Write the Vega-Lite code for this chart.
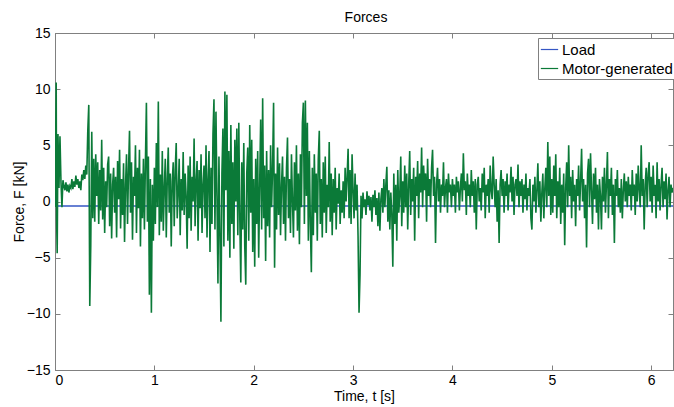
{
  "$schema": "https://vega.github.io/schema/vega-lite/v6.json",
  "autosize": "none",
  "width": 618,
  "height": 337,
  "padding": {"left": 55, "top": 33, "right": 1, "bottom": 37},
  "background": "white",
  "config": {
    "font": "Liberation Sans",
    "view": {"stroke": "#808080", "strokeWidth": 1},
    "axis": {
      "grid": false,
      "domainColor": "#808080",
      "tickColor": "#808080",
      "labelColor": "#000000",
      "titleColor": "#000000",
      "labelFont": "Liberation Sans",
      "titleFont": "Liberation Sans",
      "labelFontSize": 14,
      "titleFontSize": 14,
      "titleFontWeight": "normal",
      "tickSize": -5,
      "labelPadding": 8
    }
  },
  "title": {"text": "Forces", "fontSize": 14, "fontWeight": "normal", "font": "Liberation Sans", "color": "#000000", "offset": 1, "anchor": "middle", "dx": 2},
  "datasets": {
    "load": [{"t": 0, "f": -0.4}, {"t": 6.22, "f": -0.4}],
    "motor": [
{"t":0.00,"f":-0.5},{"t":0.012,"f":10.6},{"t":0.016,"f":-1.5},{"t":0.022,"f":-4.6},{"t":0.03,"f":6.0},{"t":0.04,"f":1.2},{"t":0.05,"f":5.8},{"t":0.06,"f":1.8},{"t":0.07,"f":-0.5},{"t":0.08,"f":1.9},{"t":0.09,"f":1.4},
{"t":0.10,"f":1.0},{"t":0.11,"f":1.7},{"t":0.12,"f":0.9},{"t":0.13,"f":1.5},{"t":0.14,"f":0.8},{"t":0.15,"f":1.4},{"t":0.16,"f":1.2},{"t":0.17,"f":2.0},{"t":0.18,"f":1.1},{"t":0.19,"f":1.8},
{"t":0.20,"f":1.3},{"t":0.21,"f":2.3},{"t":0.22,"f":1.5},{"t":0.23,"f":2.0},{"t":0.24,"f":1.2},{"t":0.25,"f":1.8},{"t":0.26,"f":1.0},{"t":0.27,"f":2.4},{"t":0.28,"f":1.9},{"t":0.29,"f":2.8},
{"t":0.30,"f":2.0},{"t":0.31,"f":3.2},{"t":0.32,"f":2.4},{"t":0.33,"f":6.3},{"t":0.34,"f":8.6},{"t":0.35,"f":-9.3},{"t":0.36,"f":-3.9},{"t":0.37,"f":6.2},{"t":0.38,"f":-1.5},{"t":0.39,"f":3.8},
{"t":0.40,"f":-1.8},{"t":0.41,"f":4.2},{"t":0.42,"f":0.5},{"t":0.43,"f":3.5},{"t":0.44,"f":-2.0},{"t":0.45,"f":2.8},{"t":0.46,"f":-0.8},{"t":0.47,"f":5.5},{"t":0.48,"f":-1.6},{"t":0.49,"f":3.0},
{"t":0.50,"f":-2.8},{"t":0.51,"f":1.8},{"t":0.52,"f":-0.5},{"t":0.53,"f":3.3},{"t":0.54,"f":4.0},{"t":0.55,"f":-2.2},{"t":0.56,"f":2.5},{"t":0.57,"f":-3.3},{"t":0.58,"f":1.5},{"t":0.59,"f":3.0},
{"t":0.60,"f":-1.0},{"t":0.61,"f":2.2},{"t":0.62,"f":-3.2},{"t":0.63,"f":3.6},{"t":0.64,"f":0.2},{"t":0.65,"f":4.6},{"t":0.66,"f":-2.4},{"t":0.67,"f":2.0},{"t":0.68,"f":-1.2},{"t":0.69,"f":3.4},
{"t":0.70,"f":-3.6},{"t":0.71,"f":1.5},{"t":0.72,"f":4.2},{"t":0.73,"f":-2.0},{"t":0.74,"f":2.8},{"t":0.75,"f":6.3},{"t":0.76,"f":-1.0},{"t":0.77,"f":3.5},{"t":0.78,"f":-3.4},{"t":0.79,"f":2.2},
{"t":0.80,"f":0.5},{"t":0.81,"f":5.0},{"t":0.82,"f":-2.8},{"t":0.83,"f":3.0},{"t":0.84,"f":-0.6},{"t":0.85,"f":4.6},{"t":0.86,"f":-4.0},{"t":0.87,"f":2.5},{"t":0.88,"f":-1.5},{"t":0.89,"f":3.8},
{"t":0.90,"f":-2.5},{"t":0.91,"f":3.5},{"t":0.92,"f":8.8},{"t":0.93,"f":-1.8},{"t":0.94,"f":4.0},{"t":0.95,"f":-8.3},{"t":0.96,"f":2.0},{"t":0.97,"f":-9.9},{"t":0.98,"f":1.5},{"t":0.99,"f":-3.5},
{"t":1.00,"f":3.0},{"t":1.01,"f":-2.0},{"t":1.02,"f":5.2},{"t":1.03,"f":-0.5},{"t":1.04,"f":8.9},{"t":1.05,"f":-3.0},{"t":1.06,"f":2.4},{"t":1.07,"f":-1.8},{"t":1.08,"f":4.5},{"t":1.09,"f":-2.6},
{"t":1.10,"f":1.2},{"t":1.11,"f":3.8},{"t":1.12,"f":-3.2},{"t":1.13,"f":2.0},{"t":1.14,"f":4.8},{"t":1.15,"f":-1.0},{"t":1.16,"f":2.5},{"t":1.17,"f":-4.0},{"t":1.18,"f":1.8},{"t":1.19,"f":3.5},
{"t":1.20,"f":-2.2},{"t":1.21,"f":2.8},{"t":1.22,"f":5.2},{"t":1.23,"f":-1.5},{"t":1.24,"f":0.8},{"t":1.25,"f":3.8},{"t":1.26,"f":-3.0},{"t":1.27,"f":2.0},{"t":1.28,"f":-0.8},{"t":1.29,"f":4.4},
{"t":1.30,"f":-1.2},{"t":1.31,"f":2.5},{"t":1.32,"f":0.5},{"t":1.33,"f":-4.2},{"t":1.34,"f":3.2},{"t":1.35,"f":-1.5},{"t":1.36,"f":4.0},{"t":1.37,"f":-2.6},{"t":1.38,"f":2.2},{"t":1.39,"f":0.0},
{"t":1.40,"f":5.6},{"t":1.41,"f":-2.2},{"t":1.42,"f":1.8},{"t":1.43,"f":3.6},{"t":1.44,"f":-3.5},{"t":1.45,"f":2.8},{"t":1.46,"f":-0.6},{"t":1.47,"f":4.2},{"t":1.48,"f":-2.8},{"t":1.49,"f":1.5},
{"t":1.50,"f":3.2},{"t":1.51,"f":-1.5},{"t":1.52,"f":5.0},{"t":1.53,"f":-3.2},{"t":1.54,"f":2.0},{"t":1.55,"f":4.5},{"t":1.56,"f":-4.5},{"t":1.57,"f":3.0},{"t":1.58,"f":-2.0},{"t":1.59,"f":6.0},
{"t":1.60,"f":9.1},{"t":1.61,"f":-2.5},{"t":1.62,"f":8.0},{"t":1.63,"f":0.5},{"t":1.64,"f":-7.3},{"t":1.65,"f":4.0},{"t":1.66,"f":-3.0},{"t":1.67,"f":-10.7},{"t":1.68,"f":2.5},{"t":1.69,"f":6.5},
{"t":1.70,"f":-4.0},{"t":1.71,"f":9.8},{"t":1.72,"f":1.0},{"t":1.73,"f":9.5},{"t":1.74,"f":-3.5},{"t":1.75,"f":4.5},{"t":1.76,"f":-5.0},{"t":1.77,"f":6.8},{"t":1.78,"f":-2.0},{"t":1.79,"f":3.5},
{"t":1.80,"f":-4.2},{"t":1.81,"f":5.5},{"t":1.82,"f":0.0},{"t":1.83,"f":6.5},{"t":1.84,"f":-3.0},{"t":1.85,"f":7.0},{"t":1.86,"f":-1.5},{"t":1.87,"f":-7.2},{"t":1.88,"f":3.5},{"t":1.89,"f":-2.5},
{"t":1.90,"f":5.2},{"t":1.91,"f":-4.0},{"t":1.92,"f":-7.4},{"t":1.93,"f":2.5},{"t":1.94,"f":4.8},{"t":1.95,"f":-3.5},{"t":1.96,"f":6.8},{"t":1.97,"f":-1.0},{"t":1.98,"f":5.5},{"t":1.99,"f":-4.5},
{"t":2.00,"f":2.0},{"t":2.01,"f":-5.8},{"t":2.02,"f":3.8},{"t":2.03,"f":-2.0},{"t":2.04,"f":4.5},{"t":2.05,"f":-5.0},{"t":2.06,"f":1.5},{"t":2.07,"f":7.3},{"t":2.08,"f":-2.5},{"t":2.09,"f":9.2},
{"t":2.10,"f":-1.5},{"t":2.11,"f":3.2},{"t":2.12,"f":-5.3},{"t":2.13,"f":4.5},{"t":2.14,"f":-2.2},{"t":2.15,"f":2.8},{"t":2.16,"f":-3.2},{"t":2.17,"f":5.0},{"t":2.18,"f":-0.5},{"t":2.19,"f":3.0},
{"t":2.20,"f":8.8},{"t":2.21,"f":-5.9},{"t":2.22,"f":2.5},{"t":2.23,"f":-2.5},{"t":2.24,"f":4.8},{"t":2.25,"f":-1.2},{"t":2.26,"f":3.4},{"t":2.27,"f":-3.0},{"t":2.28,"f":1.5},{"t":2.29,"f":4.0},
{"t":2.30,"f":-2.0},{"t":2.31,"f":2.2},{"t":2.32,"f":-3.5},{"t":2.33,"f":3.0},{"t":2.34,"f":5.7},{"t":2.35,"f":-1.5},{"t":2.36,"f":2.0},{"t":2.37,"f":-2.8},{"t":2.38,"f":4.2},{"t":2.39,"f":0.0},
{"t":2.40,"f":-3.2},{"t":2.41,"f":3.5},{"t":2.42,"f":-0.8},{"t":2.43,"f":5.0},{"t":2.44,"f":-2.6},{"t":2.45,"f":2.5},{"t":2.46,"f":-3.8},{"t":2.47,"f":4.2},{"t":2.48,"f":-0.5},{"t":2.49,"f":7.0},
{"t":2.50,"f":8.8},{"t":2.51,"f":-2.0},{"t":2.52,"f":9.0},{"t":2.53,"f":0.5},{"t":2.54,"f":7.0},{"t":2.55,"f":-3.5},{"t":2.56,"f":4.5},{"t":2.57,"f":-2.0},{"t":2.58,"f":-6.3},{"t":2.59,"f":3.0},
{"t":2.60,"f":-3.0},{"t":2.61,"f":4.2},{"t":2.62,"f":-1.0},{"t":2.63,"f":2.5},{"t":2.64,"f":-3.5},{"t":2.65,"f":3.8},{"t":2.66,"f":6.3},{"t":2.67,"f":-2.0},{"t":2.68,"f":2.0},{"t":2.69,"f":-3.2},
{"t":2.70,"f":3.5},{"t":2.71,"f":-1.0},{"t":2.72,"f":4.0},{"t":2.73,"f":-2.8},{"t":2.74,"f":1.5},{"t":2.75,"f":-0.5},{"t":2.76,"f":5.3},{"t":2.77,"f":-1.8},{"t":2.78,"f":2.5},{"t":2.79,"f":-3.0},
{"t":2.80,"f":2.0},{"t":2.81,"f":-1.0},{"t":2.82,"f":3.0},{"t":2.83,"f":-2.5},{"t":2.84,"f":1.2},{"t":2.85,"f":-0.2},{"t":2.86,"f":2.5},{"t":2.87,"f":-2.0},{"t":2.88,"f":1.0},{"t":2.89,"f":-1.0},
{"t":2.90,"f":1.8},{"t":2.91,"f":-1.5},{"t":2.92,"f":3.0},{"t":2.93,"f":0.0},{"t":2.94,"f":2.2},{"t":2.95,"f":4.7},{"t":2.96,"f":-1.5},{"t":2.97,"f":2.8},{"t":2.98,"f":-2.0},{"t":2.99,"f":4.2},
{"t":3.00,"f":1.0},{"t":3.01,"f":-1.5},{"t":3.02,"f":2.5},{"t":3.03,"f":-0.8},{"t":3.04,"f":1.5},{"t":3.05,"f":-3.0},{"t":3.06,"f":-9.9},{"t":3.07,"f":-6.5},{"t":3.08,"f":0.5},{"t":3.09,"f":-1.5},
{"t":3.10,"f":0.8},{"t":3.11,"f":-0.5},{"t":3.12,"f":0.2},{"t":3.13,"f":-1.2},{"t":3.14,"f":0.9},{"t":3.15,"f":-0.3},{"t":3.16,"f":0.5},{"t":3.17,"f":-0.8},{"t":3.18,"f":0.4},{"t":3.19,"f":-1.8},
{"t":3.20,"f":0.6},{"t":3.21,"f":-0.5},{"t":3.22,"f":1.0},{"t":3.23,"f":-1.2},{"t":3.24,"f":0.3},{"t":3.25,"f":-2.2},{"t":3.26,"f":0.8},{"t":3.27,"f":-2.6},{"t":3.28,"f":0.2},{"t":3.29,"f":1.2},
{"t":3.30,"f":-1.0},{"t":3.31,"f":2.0},{"t":3.32,"f":-0.5},{"t":3.33,"f":1.5},{"t":3.34,"f":3.1},{"t":3.35,"f":-1.8},{"t":3.36,"f":1.0},{"t":3.37,"f":-2.5},{"t":3.38,"f":0.8},{"t":3.39,"f":-1.2},
{"t":3.40,"f":-5.8},{"t":3.41,"f":2.5},{"t":3.42,"f":-2.0},{"t":3.43,"f":1.5},{"t":3.44,"f":-3.5},{"t":3.45,"f":2.8},{"t":3.46,"f":-1.0},{"t":3.47,"f":0.5},{"t":3.48,"f":4.0},{"t":3.49,"f":-2.2},
{"t":3.50,"f":1.8},{"t":3.51,"f":-1.0},{"t":3.52,"f":3.2},{"t":3.53,"f":-0.5},{"t":3.54,"f":2.5},{"t":3.55,"f":-2.5},{"t":3.56,"f":1.5},{"t":3.57,"f":4.5},{"t":3.58,"f":-1.2},{"t":3.59,"f":2.0},
{"t":3.60,"f":0.0},{"t":3.61,"f":3.0},{"t":3.62,"f":-3.5},{"t":3.63,"f":2.2},{"t":3.64,"f":0.5},{"t":3.65,"f":3.6},{"t":3.66,"f":-1.5},{"t":3.67,"f":2.5},{"t":3.68,"f":0.8},{"t":3.69,"f":4.8},
{"t":3.70,"f":-0.5},{"t":3.71,"f":3.2},{"t":3.72,"f":1.0},{"t":3.73,"f":2.5},{"t":3.74,"f":-1.8},{"t":3.75,"f":3.8},{"t":3.76,"f":0.5},{"t":3.77,"f":2.0},{"t":3.78,"f":-0.5},{"t":3.79,"f":3.0},
{"t":3.80,"f":4.6},{"t":3.81,"f":0.5},{"t":3.82,"f":2.2},{"t":3.83,"f":-3.7},{"t":3.84,"f":1.5},{"t":3.85,"f":3.0},{"t":3.86,"f":0.0},{"t":3.87,"f":2.0},{"t":3.88,"f":-1.0},{"t":3.89,"f":1.5},
{"t":3.90,"f":0.5},{"t":3.91,"f":3.5},{"t":3.92,"f":-0.5},{"t":3.93,"f":1.2},{"t":3.94,"f":2.0},{"t":3.95,"f":-1.0},{"t":3.96,"f":2.5},{"t":3.97,"f":0.8},{"t":3.98,"f":1.5},{"t":3.99,"f":-0.5},
{"t":4.00,"f":2.0},{"t":4.01,"f":0.5},{"t":4.02,"f":1.5},{"t":4.03,"f":-1.0},{"t":4.04,"f":2.2},{"t":4.05,"f":0.8},{"t":4.06,"f":1.8},{"t":4.07,"f":-0.8},{"t":4.08,"f":1.2},{"t":4.09,"f":2.5},
{"t":4.10,"f":0.0},{"t":4.11,"f":4.3},{"t":4.12,"f":1.0},{"t":4.13,"f":1.8},{"t":4.14,"f":-1.2},{"t":4.15,"f":2.5},{"t":4.16,"f":0.5},{"t":4.17,"f":1.5},{"t":4.18,"f":-0.5},{"t":4.19,"f":2.8},
{"t":4.20,"f":0.5},{"t":4.21,"f":1.8},{"t":4.22,"f":-1.0},{"t":4.23,"f":2.0},{"t":4.24,"f":-2.5},{"t":4.25,"f":1.5},{"t":4.26,"f":2.2},{"t":4.27,"f":0.0},{"t":4.28,"f":1.2},{"t":4.29,"f":-0.8},
{"t":4.30,"f":2.5},{"t":4.31,"f":0.8},{"t":4.32,"f":3.0},{"t":4.33,"f":-1.5},{"t":4.34,"f":1.5},{"t":4.35,"f":0.5},{"t":4.36,"f":2.0},{"t":4.37,"f":-1.0},{"t":4.38,"f":3.2},{"t":4.39,"f":1.0},
{"t":4.40,"f":0.2},{"t":4.41,"f":4.0},{"t":4.42,"f":1.5},{"t":4.43,"f":-0.5},{"t":4.44,"f":2.0},{"t":4.45,"f":-1.8},{"t":4.46,"f":1.0},{"t":4.47,"f":-3.7},{"t":4.48,"f":1.5},{"t":4.49,"f":2.8},
{"t":4.50,"f":0.5},{"t":4.51,"f":2.0},{"t":4.52,"f":-1.0},{"t":4.53,"f":1.8},{"t":4.54,"f":0.5},{"t":4.55,"f":2.5},{"t":4.56,"f":-0.8},{"t":4.57,"f":1.5},{"t":4.58,"f":0.8},{"t":4.59,"f":3.1},
{"t":4.60,"f":0.0},{"t":4.61,"f":2.2},{"t":4.62,"f":-1.2},{"t":4.63,"f":1.5},{"t":4.64,"f":2.0},{"t":4.65,"f":0.5},{"t":4.66,"f":3.3},{"t":4.67,"f":-0.5},{"t":4.68,"f":1.8},{"t":4.69,"f":0.5},
{"t":4.70,"f":2.0},{"t":4.71,"f":-1.0},{"t":4.72,"f":1.5},{"t":4.73,"f":0.2},{"t":4.74,"f":2.5},{"t":4.75,"f":-0.8},{"t":4.76,"f":1.2},{"t":4.77,"f":0.5},{"t":4.78,"f":2.0},{"t":4.79,"f":-1.5},
{"t":4.80,"f":-2.5},{"t":4.81,"f":1.5},{"t":4.82,"f":0.0},{"t":4.83,"f":2.2},{"t":4.84,"f":-1.0},{"t":4.85,"f":1.0},{"t":4.86,"f":3.4},{"t":4.87,"f":-0.5},{"t":4.88,"f":1.8},{"t":4.89,"f":-1.8},
{"t":4.90,"f":0.8},{"t":4.91,"f":2.5},{"t":4.92,"f":-1.5},{"t":4.93,"f":1.2},{"t":4.94,"f":3.0},{"t":4.95,"f":-0.5},{"t":4.96,"f":5.3},{"t":4.97,"f":0.5},{"t":4.98,"f":4.0},{"t":4.99,"f":-1.2},
{"t":5.00,"f":2.0},{"t":5.01,"f":-1.0},{"t":5.02,"f":3.2},{"t":5.03,"f":0.5},{"t":5.04,"f":4.2},{"t":5.05,"f":-1.5},{"t":5.06,"f":1.8},{"t":5.07,"f":-0.5},{"t":5.08,"f":3.0},{"t":5.09,"f":-2.0},
{"t":5.10,"f":1.5},{"t":5.11,"f":-1.0},{"t":5.12,"f":2.5},{"t":5.13,"f":-3.9},{"t":5.14,"f":1.2},{"t":5.15,"f":3.5},{"t":5.16,"f":-0.5},{"t":5.17,"f":5.0},{"t":5.18,"f":0.5},{"t":5.19,"f":2.2},
{"t":5.20,"f":-1.5},{"t":5.21,"f":2.8},{"t":5.22,"f":0.0},{"t":5.23,"f":1.5},{"t":5.24,"f":-2.2},{"t":5.25,"f":2.0},{"t":5.26,"f":0.5},{"t":5.27,"f":3.2},{"t":5.28,"f":-0.8},{"t":5.29,"f":1.8},
{"t":5.30,"f":4.7},{"t":5.31,"f":0.0},{"t":5.32,"f":2.0},{"t":5.33,"f":-1.5},{"t":5.34,"f":1.5},{"t":5.35,"f":-4.1},{"t":5.36,"f":2.5},{"t":5.37,"f":3.8},{"t":5.38,"f":-0.5},{"t":5.39,"f":4.3},
{"t":5.40,"f":1.0},{"t":5.41,"f":-2.0},{"t":5.42,"f":2.5},{"t":5.43,"f":0.2},{"t":5.44,"f":3.0},{"t":5.45,"f":-1.0},{"t":5.46,"f":1.5},{"t":5.47,"f":-2.5},{"t":5.48,"f":2.0},{"t":5.49,"f":0.5},
{"t":5.50,"f":-2.5},{"t":5.51,"f":2.2},{"t":5.52,"f":0.0},{"t":5.53,"f":3.0},{"t":5.54,"f":-1.0},{"t":5.55,"f":1.5},{"t":5.56,"f":4.4},{"t":5.57,"f":-1.5},{"t":5.58,"f":2.0},{"t":5.59,"f":0.5},
{"t":5.60,"f":3.0},{"t":5.61,"f":-1.2},{"t":5.62,"f":1.5},{"t":5.63,"f":-3.7},{"t":5.64,"f":2.0},{"t":5.65,"f":0.5},{"t":5.66,"f":2.8},{"t":5.67,"f":-0.5},{"t":5.68,"f":1.2},{"t":5.69,"f":-1.0},
{"t":5.70,"f":2.0},{"t":5.71,"f":-1.5},{"t":5.72,"f":1.0},{"t":5.73,"f":2.5},{"t":5.74,"f":0.0},{"t":5.75,"f":1.8},{"t":5.76,"f":-0.5},{"t":5.77,"f":2.2},{"t":5.78,"f":0.5},{"t":5.79,"f":1.5},
{"t":5.80,"f":-0.8},{"t":5.81,"f":2.8},{"t":5.82,"f":0.5},{"t":5.83,"f":1.5},{"t":5.84,"f":-1.2},{"t":5.85,"f":2.5},{"t":5.86,"f":0.0},{"t":5.87,"f":3.2},{"t":5.88,"f":1.0},{"t":5.89,"f":-0.5},
{"t":5.90,"f":5.0},{"t":5.91,"f":0.5},{"t":5.92,"f":2.0},{"t":5.93,"f":-2.5},{"t":5.94,"f":1.5},{"t":5.95,"f":3.0},{"t":5.96,"f":-0.5},{"t":5.97,"f":2.5},{"t":5.98,"f":3.5},{"t":5.99,"f":0.0},
{"t":6.00,"f":2.2},{"t":6.01,"f":-1.0},{"t":6.02,"f":3.2},{"t":6.03,"f":0.5},{"t":6.04,"f":1.5},{"t":6.05,"f":-1.5},{"t":6.06,"f":3.5},{"t":6.07,"f":0.0},{"t":6.08,"f":2.0},{"t":6.09,"f":-0.8},
{"t":6.10,"f":1.5},{"t":6.11,"f":3.0},{"t":6.12,"f":-0.5},{"t":6.13,"f":1.8},{"t":6.14,"f":0.2},{"t":6.15,"f":2.5},{"t":6.16,"f":-1.6},{"t":6.17,"f":1.0},{"t":6.18,"f":2.2},{"t":6.19,"f":-0.5},
{"t":6.20,"f":1.5},{"t":6.21,"f":0.8},{"t":6.22,"f":1.2}
    ]
  },
  "layer": [
    {
      "data": {"name": "load"},
      "mark": {"type": "line", "strokeWidth": 1.3, "clip": true},
      "encoding": {
        "x": {"field": "t", "type": "quantitative", "scale": {"domain": [0, 6.22], "nice": false, "zero": false},
              "axis": {"title": "Time, t [s]", "values": [0, 1, 2, 3, 4, 5, 6], "titlePadding": 2}},
        "y": {"field": "f", "type": "quantitative", "scale": {"domain": [-15, 15], "nice": false},
              "axis": {"title": "Force, F [kN]", "values": [-15, -10, -5, 0, 5, 10, 15], "titlePadding": 0, "labelPadding": 10}},
        "color": {"datum": "Load", "type": "nominal",
                  "scale": {"domain": ["Load", "Motor-generated"], "range": ["#3556c4", "#0b7a38"]},
                  "legend": {"orient": "none", "legendX": 483, "legendY": 5, "title": null,
                             "symbolType": "stroke", "symbolSize": 300, "symbolStrokeWidth": 1.2,
                             "labelFont": "Liberation Sans", "labelFontSize": 15, "labelColor": "#000000",
                             "strokeColor": "#808080", "fillColor": "#ffffff", "padding": 2,
                             "rowPadding": 1, "labelOffset": 3, "symbolOffset": 0}}
      }
    },
    {
      "data": {"name": "motor"},
      "mark": {"type": "line", "strokeWidth": 1.6, "clip": true},
      "encoding": {
        "x": {"field": "t", "type": "quantitative",
              "axis": {"orient": "top", "title": null, "labels": false, "values": [0, 1, 2, 3, 4, 5, 6]}},
        "y": {"field": "f", "type": "quantitative",
              "axis": {"orient": "right", "title": null, "labels": false, "values": [-15, -10, -5, 0, 5, 10, 15]}},
        "color": {"datum": "Motor-generated", "type": "nominal"}
      }
    }
  ],
  "resolve": {"axis": {"x": "independent", "y": "independent"}}
}
